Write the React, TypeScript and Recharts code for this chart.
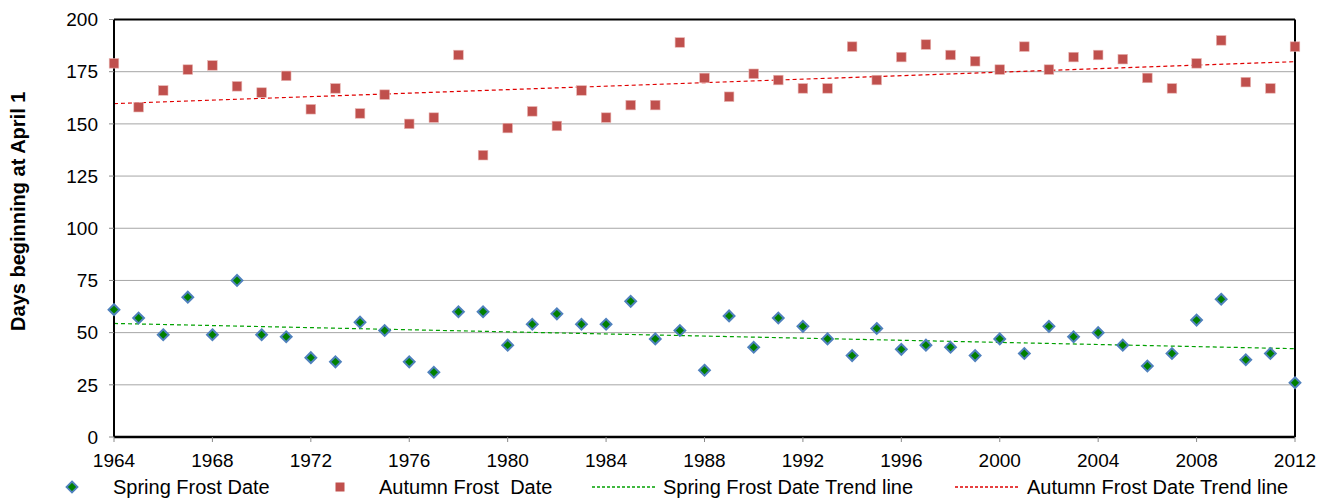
import React from "react";
import {
  ComposedChart,
  Scatter,
  Line,
  XAxis,
  YAxis,
  CartesianGrid,
  ReferenceLine,
  Legend,
  Label,
} from "recharts";

// Year of each observation
const years = [
  1964, 1965, 1966, 1967, 1968, 1969, 1970, 1971, 1972, 1973, 1974, 1975,
  1976, 1977, 1978, 1979, 1980, 1981, 1982, 1983, 1984, 1985, 1986, 1987,
  1988, 1989, 1990, 1991, 1992, 1993, 1994, 1995, 1996, 1997, 1998, 1999,
  2000, 2001, 2002, 2003, 2004, 2005, 2006, 2007, 2008, 2009, 2010, 2011,
  2012,
];

// Last spring frost, days counted from April 1
const springFrost = [
  61, 57, 49, 67, 49, 75, 49, 48, 38, 36, 55, 51, 36, 31, 60, 60, 44, 54, 59,
  54, 54, 65, 47, 51, 32, 58, 43, 57, 53, 47, 39, 52, 42, 44, 43, 39, 47, 40,
  53, 48, 50, 44, 34, 40, 56, 66, 37, 40, 26,
];

// First autumn frost, days counted from April 1
const autumnFrost = [
  179, 158, 166, 176, 178, 168, 165, 173, 157, 167, 155, 164, 150, 153, 183,
  135, 148, 156, 149, 166, 153, 159, 159, 189, 172, 163, 174, 171, 167, 167,
  187, 171, 182, 188, 183, 180, 176, 187, 176, 182, 183, 181, 172, 167, 179,
  190, 170, 167, 187,
];

// Linear trend end points (first and last year)
const trendYears = [1964, 2012];
const springTrend = [54.4, 42.3];
const autumnTrend = [159.7, 179.8];

const xTicks = [1964, 1968, 1972, 1976, 1980, 1984, 1988, 1992, 1996, 2000, 2004, 2008, 2012];
const yTicks = [0, 25, 50, 75, 100, 125, 150, 175, 200];

const springData = years.map((year, i) => ({ year, days: springFrost[i] }));
const autumnData = years.map((year, i) => ({ year, days: autumnFrost[i] }));
const springTrendData = trendYears.map((year, i) => ({ year, days: springTrend[i] }));
const autumnTrendData = trendYears.map((year, i) => ({ year, days: autumnTrend[i] }));

const FONT = "'Liberation Sans', Arial, sans-serif";
const SPRING_FILL = "#008000";
const SPRING_EDGE = "#4F81BD";
const AUTUMN_FILL = "#C0504D";
const SPRING_TREND = "#00A000";
const AUTUMN_TREND = "#E00000";

const Diamond = ({ cx, cy }: any) => {
  const r = 5.4;
  return (
    <path
      d={`M${cx},${cy - r} L${cx + r},${cy} L${cx},${cy + r} L${cx - r},${cy} Z`}
      fill={SPRING_FILL}
      stroke={SPRING_EDGE}
      strokeWidth={2}
    />
  );
};

const Square = ({ cx, cy }: any) => (
  <rect x={cx - 4.8} y={cy - 4.8} width={9.6} height={9.6} fill={AUTUMN_FILL} stroke="#E8B5B3" strokeWidth={0.6} />
);

const legendText: React.CSSProperties = {
  position: "absolute",
  top: 0,
  fontFamily: FONT,
  fontSize: 20,
  lineHeight: "24px",
  color: "#000",
  whiteSpace: "pre",
};

const renderLegend = () => (
  <div style={{ position: "relative", width: 1316, height: 24 }}>
    <svg width={1316} height={24} style={{ position: "absolute", left: 0, top: 0 }}>
      <path d="M64,6.5 L69.5,12 L64,17.5 L58.5,12 Z" fill={SPRING_FILL} stroke={SPRING_EDGE} strokeWidth={1.8} />
      <rect x={327.5} y={7.5} width={9} height={9} fill={AUTUMN_FILL} />
      <line x1={584} y1={12} x2={647} y2={12} stroke={SPRING_TREND} strokeWidth={1.3} strokeDasharray="3 2" />
      <line x1={947} y1={12} x2={1010} y2={12} stroke={AUTUMN_TREND} strokeWidth={1.3} strokeDasharray="3 2" />
    </svg>
    <span style={{ ...legendText, left: 105 }}>Spring Frost Date</span>
    <span style={{ ...legendText, left: 371 }}>Autumn Frost  Date</span>
    <span style={{ ...legendText, left: 655 }}>Spring Frost Date Trend line</span>
    <span style={{ ...legendText, left: 1019 }}>Autumn Frost Date Trend line</span>
  </div>
);

const YTitle = ({ viewBox }: any) => {
  const x = viewBox.x + 17;
  const y = viewBox.y + viewBox.height / 2 - 17;
  return (
    <text
      x={x}
      y={y}
      transform={`rotate(-90 ${x} ${y})`}
      textAnchor="middle"
      fontFamily={FONT}
      fontSize={20}
      fontWeight="bold"
      fill="#000"
    >
      Days beginning at April 1
    </text>
  );
};

export default function App() {
  const tickStyle = { fontFamily: FONT, fontSize: 19, fill: "#000" };
  return (
    <ComposedChart
      width={1316}
      height={494}
      margin={{ top: 11.5, right: 29, left: 0, bottom: 3 }}
    >
      <CartesianGrid vertical={false} stroke="#A6A6A6" strokeWidth={1} />
      <XAxis
        type="number"
        dataKey="year"
        domain={[1964, 2012]}
        ticks={xTicks}
        interval={0}
        height={38}
        tick={tickStyle}
        tickSize={5}
        tickMargin={12}
        tickLine={{ stroke: "#888" }}
        axisLine={{ stroke: "#000", strokeWidth: 2.5 }}
      />
      <YAxis
        type="number"
        domain={[0, 200]}
        ticks={yTicks}
        interval={0}
        width={106}
        tick={tickStyle}
        tickSize={5}
        tickMargin={11}
        tickLine={{ stroke: "#888" }}
        axisLine={{ stroke: "#000", strokeWidth: 2 }}
      >
        <Label content={<YTitle />} position="insideLeft" />
      </YAxis>
      <ReferenceLine y={200} stroke="#000" strokeWidth={2} />
      <ReferenceLine x={2012} stroke="#000" strokeWidth={2} />
      <Line
        data={springTrendData}
        dataKey="days"
        stroke={SPRING_TREND}
        strokeWidth={1.2}
        strokeDasharray="4 3"
        dot={false}
        activeDot={false}
        isAnimationActive={false}
        legendType="none"
      />
      <Line
        data={autumnTrendData}
        dataKey="days"
        stroke={AUTUMN_TREND}
        strokeWidth={1.2}
        strokeDasharray="4 3"
        dot={false}
        activeDot={false}
        isAnimationActive={false}
        legendType="none"
      />
      <Scatter data={springData} dataKey="days" shape={<Diamond />} isAnimationActive={false} />
      <Scatter data={autumnData} dataKey="days" shape={<Square />} isAnimationActive={false} />
      <Legend
        verticalAlign="bottom"
        content={renderLegend}
        wrapperStyle={{ left: 0, width: 1316, height: 24, bottom: 3 }}
      />
    </ComposedChart>
  );
}
